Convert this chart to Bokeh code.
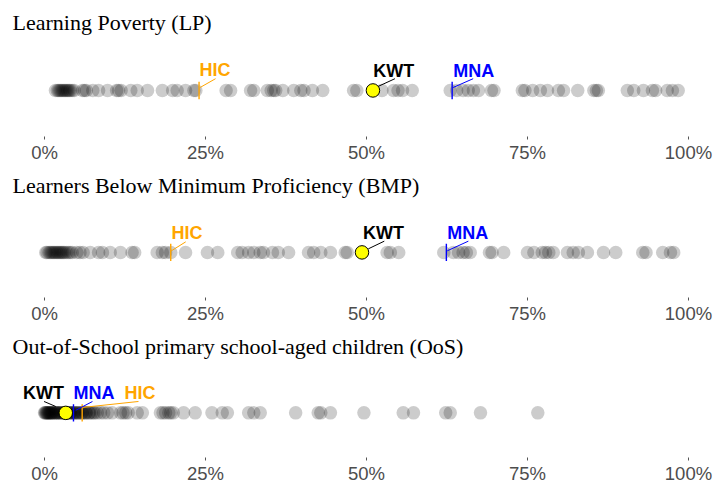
from bokeh.plotting import figure
from bokeh.layouts import column
from bokeh.models import Range1d, FixedTicker, ColumnDataSource
from bokeh.embed import file_html
from bokeh.resources import INLINE
from bokeh.core.properties import value

# ---------------- data ----------------
titles = [
    "Learning Poverty (LP)",
    "Learners Below Minimum Proficiency (BMP)",
    "Out-of-School primary school-aged children (OoS)",
]
tick_values = [0, 25, 50, 75, 100]
tick_labels = ["0%", "25%", "50%", "75%", "100%"]

lp_values = [1.7, 2.0, 2.2, 2.4, 2.6, 2.8, 3.0, 3.2, 3.4, 3.6, 3.8, 4.0, 4.3, 4.6,
             5.9, 6.2, 6.5, 7.5, 8.4, 9.8, 11.2, 11.5, 11.9, 13.4, 14.4, 16.0,
             18.3, 19.9, 20.6, 21.9, 23.2, 23.5, 28.2, 28.9, 32.0, 32.5, 34.6,
             35.2, 35.6, 35.9, 37.0, 38.7, 39.8, 40.3, 41.6, 43.2, 48.0, 48.5,
             51.0, 52.4, 54.2, 54.9, 55.6, 57.1, 63.0, 64.0, 65.0, 65.8, 66.6,
             67.4, 69.4, 69.8, 74.2, 74.6, 75.8, 77.0, 78.1, 79.8, 80.6, 82.8,
             85.3, 85.7, 86.0, 90.5, 91.5, 93.0, 94.4, 94.9, 96.7, 97.5, 98.4]

bmp_values = [0.2, 0.4, 0.7, 0.9, 1.1, 1.3, 1.5, 1.7, 1.9, 2.1, 2.3, 2.5, 2.7,
              2.9, 3.1, 3.4, 3.7, 4.0, 4.3, 5.0, 5.5, 6.0, 7.1, 8.4, 9.0, 10.2,
              11.8, 13.6, 14.0, 17.5, 18.3, 18.8, 19.6, 21.9, 25.3, 26.9, 30.0,
              30.7, 31.7, 32.5, 33.5, 34.0, 35.4, 36.3, 37.9, 41.0, 41.8, 42.9,
              44.4, 46.7, 47.0, 49.3, 53.2, 53.7, 55.0, 62.0, 63.5, 64.3, 65.0,
              65.5, 66.1, 69.1, 69.5, 71.3, 75.0, 76.0, 77.3, 77.8, 78.3, 79.0,
              81.2, 82.1, 82.9, 84.3, 86.8, 88.7, 92.9, 93.4, 96.0, 97.2, 97.7]

oos_values = [0.0, 0.1, 0.2, 0.3, 0.4, 0.5, 0.6, 0.7, 0.8, 0.9, 1.0, 1.1, 1.2,
              1.3, 1.5, 1.6, 1.8, 1.9, 2.0, 2.2, 2.3, 2.5, 2.6, 2.8, 3.0, 3.1,
              3.3, 3.5, 3.7, 3.9, 4.0, 4.1, 4.3, 4.5, 4.6, 4.8, 5.0, 5.2, 5.3,
              5.6, 5.8, 5.9, 6.2, 6.4, 6.5, 6.9, 7.0, 7.3, 7.6, 7.8, 8.2, 8.7,
              9.2, 9.8, 10.5, 11.8, 12.2, 12.6, 13.0, 14.4, 15.2, 18.0, 18.4,
              18.8, 19.3, 19.6, 20.0, 21.6, 23.4, 26.0, 27.6, 28.4, 31.7, 32.5,
              33.5, 39.0, 42.5, 42.9, 44.4, 49.6, 55.7, 57.3, 62.3, 63.0, 67.7,
              76.6]

kwt_values = [51.0, 49.3, 3.3]
mna_values = [63.3, 62.4, 4.5]
hic_values = [24.0, 19.6, 5.85]

# ---------------- layout / style ----------------
FIG_W = 715
BORDER_L, BORDER_R = 12, 10
X_RANGE = (-4.969, 102.64)
FRAME_W = FIG_W - BORDER_L - BORDER_R
PX_PER_UNIT = FRAME_W / (X_RANGE[1] - X_RANGE[0])
HEIGHTS = [165, 161, 160]
BORDER_TOPS = [39, 35, 35]
FRAME_H = 99
Y_RANGE = (-47, 52)  # one unit = one pixel, dots at 0

COLORS = {"KWT": "#000000", "MNA": "#0000FF", "HIC": "#FFA500"}

# per panel label placement (pixel offsets): text dx, text dy, align, leader start, leader end
LABEL_LAYOUT = [
    {"HIC": (0.5, 21, "left", (1, 3), (16.5, 12)),
     "KWT": (0.3, 20, "left", (5, 4), (22, 12)),
     "MNA": (1, 20, "left", (1, 3), (21, 12))},
    {"HIC": (0.7, 20.7, "left", (0.7, 1.7), (15, 11)),
     "KWT": (1, 20.7, "left", (6.3, 3.7), (22.3, 11.7)),
     "MNA": (1, 20.7, "left", (1, 1.7), (22, 11.7))},
    {"HIC": (42.3, 20.7, "left", (0.3, 5.7), (56.3, 12)),
     "KWT": (-1.7, 20.7, "right", (-10, 6.7), (-21.7, 12)),
     "MNA": (0, 20.7, "left", (2.3, 2.7), (19, 12))},
]


def make_panel(i, values):
    h = HEIGHTS[i]
    bt = BORDER_TOPS[i]
    p = figure(width=FIG_W, height=h, x_range=Range1d(*X_RANGE),
               y_range=Range1d(*Y_RANGE), output_backend="svg",
               toolbar_location=None, y_axis_location=None,
               min_border_left=BORDER_L, min_border_right=BORDER_R,
               min_border_top=bt, min_border_bottom=h - bt - FRAME_H)
    p.outline_line_color = None
    p.xgrid.visible = False
    p.ygrid.visible = False
    p.background_fill_color = "white"
    p.border_fill_color = "white"

    p.title.text = titles[i]
    p.title.text_font = "Liberation Serif"
    p.title.text_font_size = "22px"
    p.title.text_font_style = "normal"
    p.title.text_color = "#000000"
    p.title.align = "left"
    p.title.standoff = 10

    ax = p.xaxis[0]
    ax.ticker = FixedTicker(ticks=tick_values)
    ax.major_label_overrides = {v: l for v, l in zip(tick_values, tick_labels)}
    ax.axis_line_color = None
    ax.major_tick_in = 0
    ax.major_tick_out = 3
    ax.major_tick_line_color = "#555555"
    ax.major_tick_line_width = 1
    ax.minor_tick_line_color = None
    ax.major_label_standoff = 2
    ax.major_label_text_font = "Liberation Sans"
    ax.major_label_text_font_size = "18.5px"
    ax.major_label_text_color = "#4D4D4D"

    src = ColumnDataSource(dict(x=values, y=[0] * len(values)))
    p.scatter("x", "y", source=src, size=13.5, fill_color="black",
              fill_alpha=0.2, line_color=None)

    refs = {"KWT": kwt_values[i], "MNA": mna_values[i], "HIC": hic_values[i]}
    layout = LABEL_LAYOUT[i]

    for code in ["HIC", "MNA"]:
        v = refs[code]
        p.segment(x0=[v], y0=[-9], x1=[v], y1=[9], line_color=COLORS[code],
                  line_width=1.4)

    for code in ["HIC", "MNA", "KWT"]:
        v = refs[code]
        tdx, tdy, align, (lx0, ly0), (lx1, ly1) = layout[code]
        p.segment(x0=[v + lx0 / PX_PER_UNIT], y0=[ly0],
                  x1=[v + lx1 / PX_PER_UNIT], y1=[ly1],
                  line_color=COLORS[code], line_width=1)

    p.scatter([refs["KWT"]], [0], size=13.5, fill_color="#FFFF00",
              line_color="black", line_width=1)

    for code in ["HIC", "MNA", "KWT"]:
        v = refs[code]
        tdx, tdy, align, _, _ = layout[code]
        p.text(x=[v], y=[tdy], text=[code], x_offset=tdx,
               text_align=align, text_baseline="alphabetic",
               text_font=value("Liberation Sans"), text_font_style="bold",
               text_font_size="18px", text_color=COLORS[code])
    return p


panels = [make_panel(0, lp_values), make_panel(1, bmp_values), make_panel(2, oos_values)]
layout_col = column(*panels)

open("out.html", "w").write(file_html(layout_col, INLINE))
